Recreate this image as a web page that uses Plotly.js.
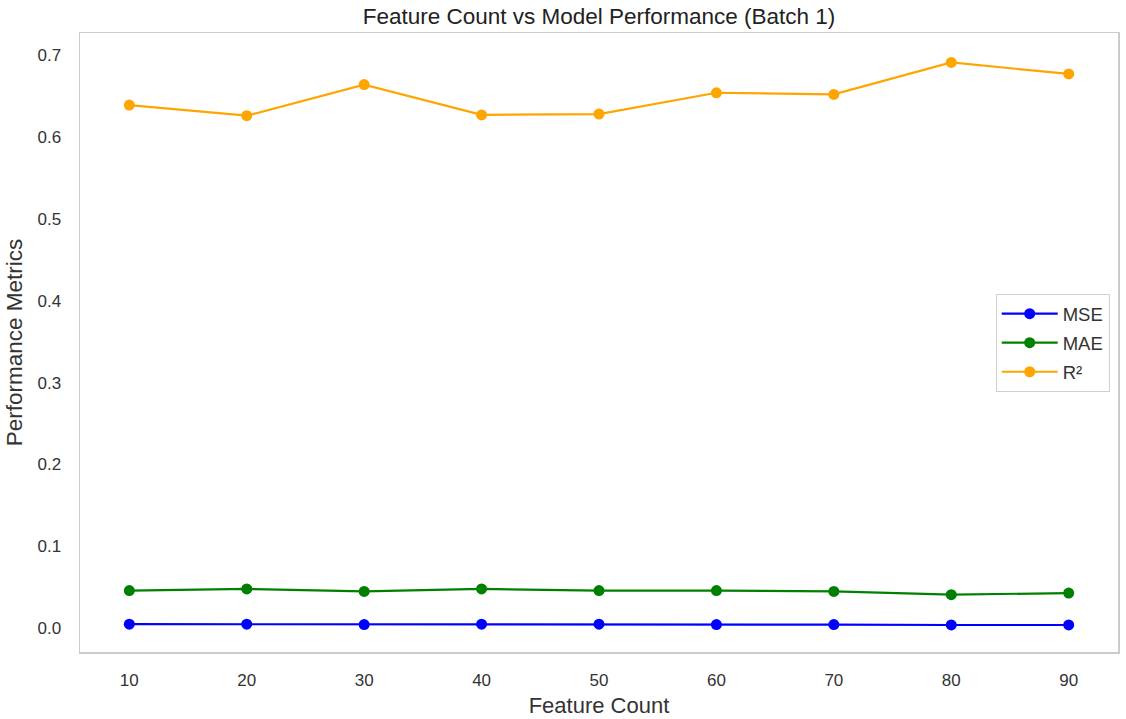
<!DOCTYPE html>
<html>
<head>
<meta charset="utf-8">
<script src="https://cdn.plot.ly/plotly-3.0.1.min.js"></script>
<style>html,body{margin:0;padding:0;background:#fff;}#chart{width:1126px;height:719px;}</style>
</head>
<body>
<div id="chart"></div>
<script>
const featureCounts = [10, 20, 30, 40, 50, 60, 70, 80, 90];
const mseValues = [0.005, 0.005, 0.0045, 0.005, 0.005, 0.0045, 0.0045, 0.004, 0.004];
const maeValues = [0.046, 0.048, 0.045, 0.048, 0.046, 0.046, 0.045, 0.041, 0.043];
const r2Values = [0.639, 0.626, 0.664, 0.627, 0.628, 0.654, 0.652, 0.691, 0.677];
const tickVals = [10, 20, 30, 40, 50, 60, 70, 80, 90];
const yTickVals = [0, 0.1, 0.2, 0.3, 0.4, 0.5, 0.6, 0.7];
const yTickText = ['0.0', '0.1', '0.2', '0.3', '0.4', '0.5', '0.6', '0.7'];

function series(name, y, color) {
  return {
    x: featureCounts, y: y, name: name, legendgroup: name, type: 'scatter', mode: 'lines+markers',
    line: {color: color, width: 2.2},
    marker: {color: color, size: 11}
  };
}

const data = [
  series('MSE', mseValues, 'blue'),
  series('MAE', maeValues, 'green'),
  series('R²', r2Values, 'orange')
];

const font = 'Liberation Sans, Arial, sans-serif';
const layout = {
  width: 1126, height: 719,
  margin: {l: 80, r: 8, t: 33, b: 67},
  paper_bgcolor: '#fff', plot_bgcolor: '#fff',
  font: {family: font, color: '#333', size: 16},
  title: {text: 'Feature Count vs Model Performance (Batch 1)', xref: 'paper', x: 0.5, xanchor: 'center', y: 0.977, yanchor: 'middle', font: {size: 22.5, color: '#222'}},
  xaxis: {
    range: [5.8, 94.2], tickvals: tickVals, showgrid: false, zeroline: false,
    showline: true, linecolor: '#cccccc', linewidth: 1.5, mirror: true,
    ticks: '', ticklabelstandoff: 12, tickfont: {size: 17, color: '#333'},
    title: {text: 'Feature Count', font: {size: 22, color: '#333'}, standoff: 8}
  },
  yaxis: {
    range: [-0.029, 0.727], tickvals: yTickVals, ticktext: yTickText, showgrid: false, zeroline: false,
    showline: true, linecolor: '#cccccc', linewidth: 1.5, mirror: true,
    ticks: '', ticklabelstandoff: 14, tickfont: {size: 17, color: '#333'},
    title: {text: 'Performance Metrics', font: {size: 22.5, color: '#333'}, standoff: 8}
  },
  legend: {
    x: 0.992, xanchor: 'right', y: 0.499, yanchor: 'middle',
    bgcolor: '#fff', bordercolor: '#d0d0d0', borderwidth: 1,
    font: {size: 18.5, color: '#333'}, tracegroupgap: 2, itemwidth: 56
  },
  showlegend: true
};

Plotly.newPlot('chart', data, layout, {displayModeBar: false, staticPlot: true});
</script>
</body>
</html>
